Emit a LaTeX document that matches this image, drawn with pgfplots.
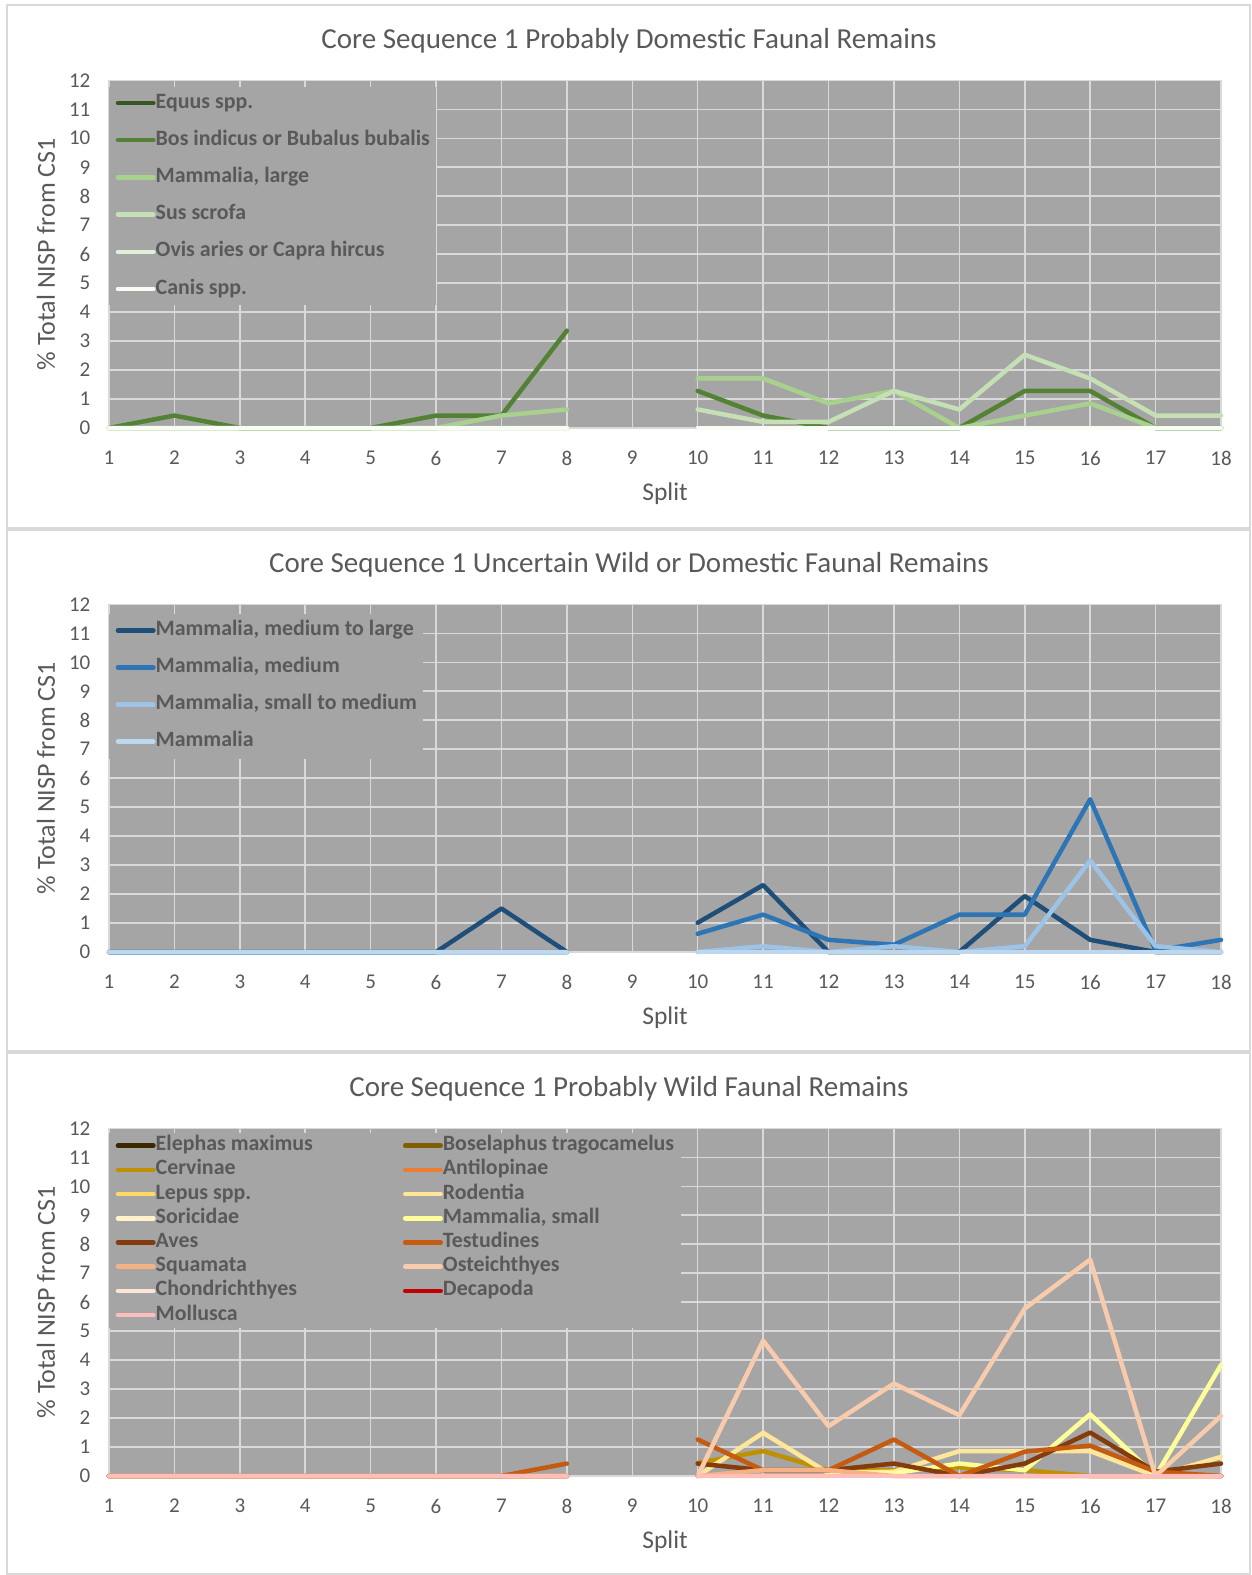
\documentclass[border=0pt]{standalone}
\usepackage{fontspec}
\setmainfont{Carlito}
\usepackage{pgfplots}
\pgfplotsset{compat=1.18}
\usepackage{pgfplotstable}

\definecolor{plotbg}{HTML}{A5A5A5}
\definecolor{gridc}{HTML}{D9D9D9}
\definecolor{txt}{HTML}{595959}
% panel 1
\definecolor{cEquus}{HTML}{375623}
\definecolor{cBos}{HTML}{548235}
\definecolor{cMamL}{HTML}{A9D18E}
\definecolor{cSus}{HTML}{C5E0B4}
\definecolor{cOvis}{HTML}{E2F0D9}
\definecolor{cCanis}{HTML}{F8FCF5}
% panel 2
\definecolor{cMML}{HTML}{1F4E79}
\definecolor{cMM}{HTML}{2E75B6}
\definecolor{cMSM}{HTML}{9DC3E6}
\definecolor{cM}{HTML}{BDD7EE}
% panel 3
\definecolor{cEle}{HTML}{3B2A00}
\definecolor{cBose}{HTML}{7F6000}
\definecolor{cCerv}{HTML}{BF9000}
\definecolor{cAnt}{HTML}{ED7D31}
\definecolor{cLep}{HTML}{FFD966}
\definecolor{cRod}{HTML}{FFE699}
\definecolor{cSor}{HTML}{FFF2CC}
\definecolor{cMSm}{HTML}{FFFF99}
\definecolor{cAves}{HTML}{843C0C}
\definecolor{cTest}{HTML}{C55A11}
\definecolor{cSqu}{HTML}{F4B183}
\definecolor{cOst}{HTML}{F8CBAD}
\definecolor{cCho}{HTML}{FBE5D6}
\definecolor{cDec}{HTML}{C00000}
\definecolor{cMol}{HTML}{FFBDBD}

\pgfplotstableread{
x  Equus Bos  MamL Sus  Ovis Canis
1  0     0    0    0    0    0
2  0     0.43 0    0    0    0
3  0     0    0    0    0    0
4  0     0    0    0    0    0
5  0     0    0    0    0    0
6  0     0.43 0    0    0    0
7  0     0.43 0.43 0    0    0
8  0     3.36 0.64 0    0    0
9  nan   nan  nan  nan  nan  nan
10 0     1.28 1.71 0.64 0    0
11 0     0.43 1.71 0.21 0    0
12 0     0    0.85 0.21 0    0
13 0     0    1.28 1.28 0    0
14 0     0    0    0.64 0    0
15 0     1.28 0.43 2.53 0    0
16 0     1.28 0.85 1.71 0    0
17 0     0    0    0.43 0    0
18 0     0    0    0.43 0    0
}\tabA

\pgfplotstableread{
x  MML  MM   MSM  M
1  0    0    0    0
2  0    0    0    0
3  0    0    0    0
4  0    0    0    0
5  0    0    0    0
6  0    0    0    0
7  1.50 0    0    0
8  0    0    0    0
9  nan  nan  nan  nan
10 1.01 0.63 0    0
11 2.31 1.29 0.20 0
12 0    0.42 0    0
13 0    0.25 0.20 0
14 0    1.29 0    0
15 1.93 1.29 0.20 0
16 0.42 5.27 3.16 0
17 0    0.05 0.20 0
18 0    0.42 0    0
}\tabB

\pgfplotstableread{
x  Ele Bose Cerv Ant Lep Rod  Sor MSm  Aves Test Squ  Ost  Cho Dec Mol
1  0   0    0    0   0   0    0   0    0    0    0    0    0   0   0
2  0   0    0    0   0   0    0   0    0    0    0    0    0   0   0
3  0   0    0    0   0   0    0   0    0    0    0    0    0   0   0
4  0   0    0    0   0   0    0   0    0    0    0    0    0   0   0
5  0   0    0    0   0   0    0   0    0    0    0    0    0   0   0
6  0   0    0    0   0   0    0   0    0    0    0    0    0   0   0
7  0   0    0    0   0   0    0   0    0    0    0    0    0   0   0
8  0   0    0    0   0   0    0   0    0    0.43 0    0    0   0   0
9  nan nan  nan  nan nan nan  nan nan  nan  nan  nan  nan  nan nan nan
10 0   0    0.45 0   0   0    0   0    0.43 1.26 0    0    0   0   0
11 0   0    0.86 0   0   1.49 0   0    0.20 0.20 0.20 4.67 0   0   0
12 0   0    0.20 0   0   0.10 0   0    0.20 0.20 0.20 1.72 0   0   0
13 0   0    0.20 0   0   0.15 0   0.10 0.43 1.26 0    3.19 0   0   0
14 0   0    0.30 0   0   0.86 0   0.43 0    0    0    2.10 0   0   0
15 0   0    0.20 0   0   0.86 0   0.20 0.43 0.84 0    5.78 0   0   0
16 0   0    0    0   0   0.86 0   2.13 1.50 1.05 0    7.47 0   0   0
17 0   0    0    0   0   0    0   0    0.15 0.15 0    0    0   0   0
18 0   0    0    0   0   0.66 0   3.83 0.43 0    0    2.07 0   0   0
}\tabC

\pgfplotsset{
  panel/.style={
    scale only axis, width=1112pt, height=347.7pt,
    xmin=1, xmax=18, ymin=0, ymax=12,
    xtick={1,...,18}, ytick={0,...,12},
    major tick length=0pt,
    grid=major, major grid style={draw=gridc, line width=1.5pt},
    axis line style={draw=gridc, line width=1.5pt},
    axis background/.style={fill=plotbg},
    tick label style={font=\fontsize{21}{24}\selectfont, text=txt},
    /pgf/number format/assume math mode=true,
    xticklabel style={anchor=center, yshift=-30pt},
    yticklabel style={anchor=east, inner sep=0pt, xshift=-18.5pt},
    xlabel={Split},
    xlabel style={at={(axis description cs:0.5,-0.19)}, anchor=center, font=\fontsize{25.5}{29}\selectfont, text=txt},
    ylabel={\% Total NISP from CS1},
    ylabel style={at={(axis description cs:-0.0567,0.5)}, anchor=center, font=\fontsize{26}{30}\selectfont, text=txt},
    title style={at={(axis description cs:0.4676,1.096)}, anchor=center, font=\fontsize{29}{33}\selectfont, text=txt},
    unbounded coords=jump, clip=false,
    every axis plot/.append style={line width=4.5pt, line join=round, line cap=round, mark=none},
    legend cell align=left,
    legend image code/.code={\draw[##1] (0pt,0pt) -- (35.5pt,0pt);},
    legend style={at={(0,1)}, anchor=north west, fill=plotbg, draw=none,
      font=\bfseries\fontsize{21.9}{24}\selectfont, text=txt,
      nodes={inner sep=0pt, text height=15pt, text depth=5pt},
      inner xsep=6.5pt},
  }
}

\begin{document}
\begin{tikzpicture}
\path[use as bounding box] (0pt,0pt) rectangle (1251pt,-1575pt);
\draw[gridc, line width=1.5pt] (7pt,-5pt) rectangle (1250pt,-528pt);
\draw[gridc, line width=1.5pt] (7pt,-530pt) rectangle (1250pt,-1051pt);
\draw[gridc, line width=1.5pt] (7pt,-1053pt) rectangle (1250pt,-1574pt);

\begin{axis}[panel, at={(109pt,-428pt)}, anchor=south west,
  title={Core Sequence 1 Probably Domestic Faunal Remains},
  legend style={yshift=-6.2pt, inner ysep=6.3pt, row sep=17.2pt}]
\addplot[cEquus] table[x=x,y=Equus] {\tabA}; \addlegendentry{Equus spp.}
\addplot[cBos] table[x=x,y=Bos] {\tabA}; \addlegendentry{Bos indicus or Bubalus bubalis}
\addplot[cMamL] table[x=x,y=MamL] {\tabA}; \addlegendentry{Mammalia, large}
\addplot[cSus] table[x=x,y=Sus] {\tabA}; \addlegendentry{Sus scrofa}
\addplot[cOvis] table[x=x,y=Ovis] {\tabA}; \addlegendentry{Ovis aries or Capra hircus}
\addplot[cCanis] table[x=x,y=Canis] {\tabA}; \addlegendentry{Canis spp.}
\end{axis}

\begin{axis}[panel, at={(109pt,-952pt)}, anchor=south west,
  title={Core Sequence 1 Uncertain Wild or Domestic Faunal Remains},
  legend style={yshift=-9pt, inner ysep=7pt, row sep=17pt}]
\addplot[cMML] table[x=x,y=MML] {\tabB}; \addlegendentry{Mammalia, medium to large}
\addplot[cMM] table[x=x,y=MM] {\tabB}; \addlegendentry{Mammalia, medium}
\addplot[cMSM] table[x=x,y=MSM] {\tabB}; \addlegendentry{Mammalia, small to medium}
\addplot[cM] table[x=x,y=M] {\tabB}; \addlegendentry{Mammalia}
\end{axis}

\begin{axis}[panel, at={(109pt,-1476pt)}, anchor=south west,
  title={Core Sequence 1 Probably Wild Faunal Remains},
  legend columns=2,
  legend style={yshift=-4pt, inner ysep=3.2pt, row sep=4.2pt,
    /tikz/every even column/.append style={column sep=90pt}}]
\addplot[cEle] table[x=x,y=Ele] {\tabC}; \addlegendentry{Elephas maximus}
\addplot[cBose] table[x=x,y=Bose] {\tabC}; \addlegendentry{Boselaphus tragocamelus}
\addplot[cCerv] table[x=x,y=Cerv] {\tabC}; \addlegendentry{Cervinae}
\addplot[cAnt] table[x=x,y=Ant] {\tabC}; \addlegendentry{Antilopinae}
\addplot[cLep] table[x=x,y=Lep] {\tabC}; \addlegendentry{Lepus spp.}
\addplot[cRod] table[x=x,y=Rod] {\tabC}; \addlegendentry{Rodentia}
\addplot[cSor] table[x=x,y=Sor] {\tabC}; \addlegendentry{Soricidae}
\addplot[cMSm] table[x=x,y=MSm] {\tabC}; \addlegendentry{Mammalia, small}
\addplot[cAves] table[x=x,y=Aves] {\tabC}; \addlegendentry{Aves}
\addplot[cTest] table[x=x,y=Test] {\tabC}; \addlegendentry{Testudines}
\addplot[cSqu] table[x=x,y=Squ] {\tabC}; \addlegendentry{Squamata}
\addplot[cOst] table[x=x,y=Ost] {\tabC}; \addlegendentry{Osteichthyes}
\addplot[cCho] table[x=x,y=Cho] {\tabC}; \addlegendentry{Chondrichthyes}
\addplot[cDec] table[x=x,y=Dec] {\tabC}; \addlegendentry{Decapoda}
\addplot[cMol] table[x=x,y=Mol] {\tabC}; \addlegendentry{Mollusca}
\end{axis}
\end{tikzpicture}
\end{document}
